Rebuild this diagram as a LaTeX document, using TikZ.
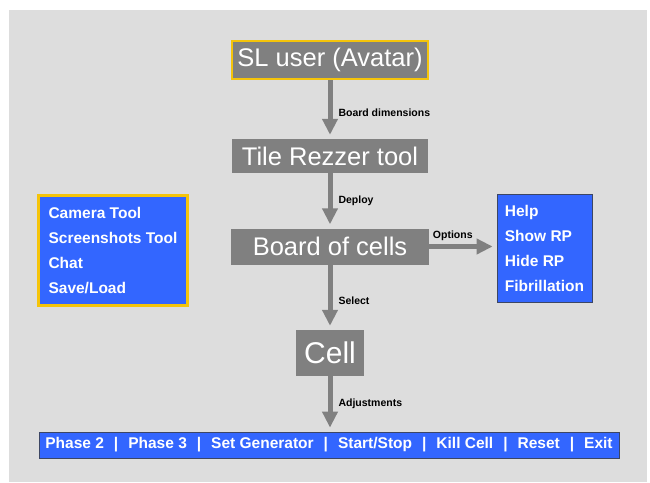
\documentclass[tikz,border=0pt]{standalone}
\usepackage{fontspec}
\setmainfont{Liberation Sans}
\usepackage{tikz}
\usetikzlibrary{
  arrows.meta,
  positioning
}
\definecolor{boxgray}{RGB}{128,128,128}
\definecolor{panelblue}{RGB}{51,102,255}
\definecolor{goldedge}{RGB}{245,196,10}
\definecolor{bggray}{RGB}{221,221,221}
\definecolor{edgeblue}{RGB}{60,70,100}

\begin{document}
\begin{tikzpicture}[x=1pt,y=-1pt,
  greybox/.style={fill=boxgray,text=white,inner sep=0pt,font=\fontsize{25.5}{29}\selectfont},
  bluebox/.style={fill=panelblue,draw=edgeblue,line width=0.8pt,text=white,inner sep=0pt,
    font=\bfseries\fontsize{15.5}{25}\selectfont},
  flow/.style={draw=boxgray,line width=5pt,-{Triangle[width=15pt,length=16pt]},shorten >=4pt},
  tag/.style={font=\bfseries\fontsize{10.5}{12}\selectfont,text=black,inner sep=3pt}
]
  \useasboundingbox (0,0) rectangle (650,482);
  % background
  \fill[bggray] (9,10) rectangle (647,482);
  % main chain
  \node[greybox,draw=goldedge,line width=2.5pt,minimum width=196pt,minimum height=38pt] (user) at (330,60) {SL user (Avatar)};
  \node[greybox,minimum width=196pt,minimum height=34pt] (rezzer) at (330,156) {Tile Rezzer tool};
  \node[greybox,minimum width=198pt,minimum height=36pt] (board) at (330,246.5) {Board of cells};
  \node[greybox,minimum width=68pt,minimum height=46pt,font=\fontsize{30}{34}\selectfont] (cell) at (330,353) {Cell};
  % side panels
  \node[bluebox,draw=goldedge,line width=3pt,minimum width=149pt,minimum height=110pt,align=left] (tools) at (113,250.5)
    {Camera Tool\\Screenshots Tool\\Chat\\Save/Load};
  \node[bluebox,minimum width=95pt,minimum height=108pt,align=left] (options) at (544.5,248)
    {Help\\Show RP\\Hide RP\\Fibrillation};
  % bottom bar
  \node[bluebox,minimum width=580pt,minimum height=26pt] (controls) at (329,445)
    {Phase 2\hspace{10pt}|\hspace{10pt}Phase 3\hspace{10pt}|\hspace{10pt}Set Generator\hspace{10pt}|\hspace{10pt}Start/Stop\hspace{10pt}|\hspace{10pt}Kill Cell\hspace{10pt}|\hspace{10pt}Reset\hspace{10pt}|\hspace{10pt}Exit};
  % arrows
  \draw[flow] (user) -- (rezzer) node[tag,right,pos=0.55,xshift=3pt] {Board dimensions};
  \draw[flow] (rezzer) -- (board) node[tag,right,pos=0.5,xshift=3pt] {Deploy};
  \draw[flow] (board) -- (cell) node[tag,right,pos=0.55,xshift=3pt] {Select};
  \draw[flow] (cell) -- (cell |- controls.north) node[tag,right,pos=0.5,xshift=3pt] {Adjustments};
  \draw[flow] (board.east) -- (board.east -| options.west) node[tag,above,pos=0.35] {Options};
\end{tikzpicture}
\end{document}
